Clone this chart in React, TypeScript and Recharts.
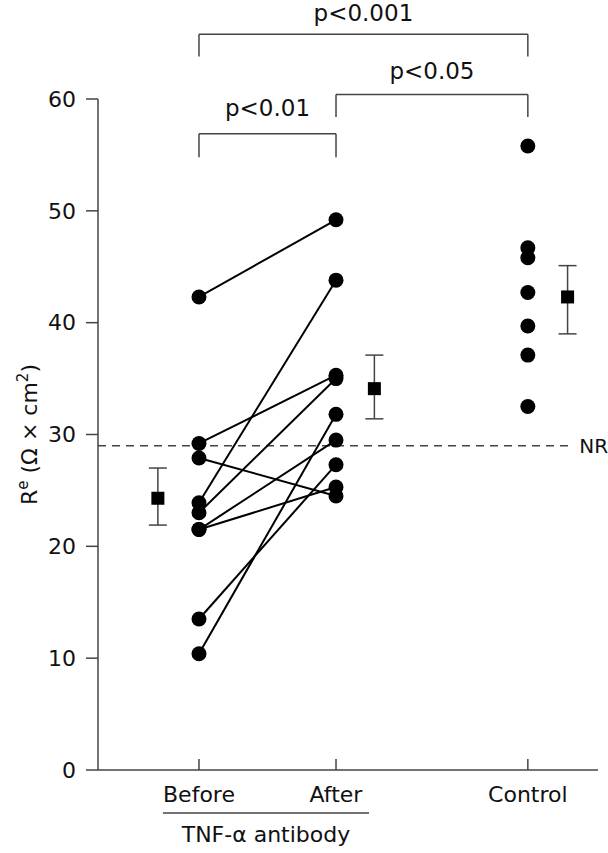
import React from "react";
import {
  ComposedChart,
  Scatter,
  XAxis,
  YAxis,
  ErrorBar,
  ReferenceLine,
  ReferenceDot
} from "recharts";

// groups on the x axis
const groupNames = ["Before", "After", "Control"];
const groupX = [1, 2, 3.4];

// paired values, same index = same patient
const beforeValues = [42.3, 29.2, 27.9, 23.9, 23.0, 21.5, 21.5, 13.5, 10.4];
const afterValues = [49.2, 35.3, 24.5, 43.8, 35.0, 29.5, 25.3, 27.3, 31.8];
const controlValues = [55.8, 46.7, 45.8, 42.7, 39.7, 37.1, 32.5];

// mean +/- sem, drawn beside each group
const meanX = [0.7, 2.28, 3.69];
const meanValues = [24.3, 34.1, 42.3];
const meanLow = [21.9, 31.4, 39.0];
const meanHigh = [27.0, 37.1, 45.1];

const yTicks = [0, 10, 20, 30, 40, 50, 60];
const normalRange = 29;

// significance brackets: group index pairs and labels
const bracketPairs = [[0, 1], [1, 2], [0, 2]];
const bracketLabels = ["p<0.01", "p<0.05", "p<0.001"];
const bracketTop = [56.9, 60.4, 65.8];
const bracketFoot = [54.8, 58.4, 63.8];
const bracketTextY = [59.2, 62.5, 67.7];

const xMin = 0.263;
const xMax = 3.912;
const ink = "#111";
const axisGrey = "#444";

const pairs = beforeValues.map((b, i) => [
  { x: groupX[0], y: b },
  { x: groupX[1], y: afterValues[i] }
]);
const controlData = controlValues.map((v) => ({ x: groupX[2], y: v }));
const meanData = meanValues.map((m, i) => ({
  x: meanX[i],
  y: m,
  err: [m - meanLow[i], meanHigh[i] - m]
}));

const Dot = (p: any) => <circle cx={p.cx} cy={p.cy} r={7.5} fill="#000" />;
const Square = (p: any) => (
  <rect x={p.cx - 6.5} y={p.cy - 6.5} width={13} height={13} fill="#000" />
);

const XTick = (props: any) => {
  const { x, y, payload } = props;
  const i = groupX.indexOf(payload.value);
  return (
    <g>
      <line x1={x} x2={x} y1={y} y2={y - 11} stroke={axisGrey} strokeWidth={1.5} />
      <text x={x} y={y + 32} textAnchor="middle" fontSize={22} fill={ink}>
        {groupNames[i]}
      </text>
    </g>
  );
};

const YLabel = (props: any) => {
  const vb = props.viewBox;
  const cx = vb.x + 37;
  const cy = vb.y + vb.height / 2;
  return (
    <text
      x={cx}
      y={cy}
      transform={`rotate(-90 ${cx} ${cy})`}
      textAnchor="middle"
      fontSize={22}
      fill={ink}
    >
      R
      <tspan dy={-9} fontSize={15}>e</tspan>
      <tspan dy={9}> (Ω × cm</tspan>
      <tspan dy={-9} fontSize={15}>2</tspan>
      <tspan dy={9}>)</tspan>
    </text>
  );
};

export default function App() {
  return (
    <div style={{ position: "absolute", left: 0, top: 0, fontFamily: "DejaVu Sans" }}>
      <ComposedChart
        width={608}
        height={853}
        margin={{ top: 99, right: 10, bottom: 23, left: 0 }}
      >
        <XAxis
          type="number"
          dataKey="x"
          domain={[xMin, xMax]}
          ticks={groupX}
          tick={<XTick />}
          tickLine={false}
          tickSize={0}
          tickMargin={0}
          height={60}
          axisLine={{ stroke: axisGrey, strokeWidth: 1.5 }}
        />
        <YAxis
          type="number"
          dataKey="y"
          domain={[0, 60]}
          ticks={yTicks}
          width={98}
          tickSize={12}
          tickMargin={10}
          tick={{ fontSize: 22, fill: ink }}
          tickLine={{ stroke: axisGrey, strokeWidth: 1.5 }}
          axisLine={{ stroke: axisGrey, strokeWidth: 1.5 }}
          label={{ content: YLabel }}
        />

        <ReferenceLine
          segment={[{ x: xMin, y: normalRange }, { x: 3.72, y: normalRange }]}
          stroke={axisGrey}
          strokeWidth={1.5}
          strokeDasharray="8 6"
          ifOverflow="visible"
        />
        <ReferenceDot
          x={3.88}
          y={normalRange}
          r={1}
          fill="none"
          stroke="none"
          ifOverflow="visible"
          label={{ value: "NR", position: "center", fontSize: 20, fill: ink }}
        />

        {bracketPairs.map(([a, b], i) => (
          <React.Fragment key={bracketLabels[i]}>
            <ReferenceLine
              segment={[{ x: groupX[a], y: bracketFoot[i] }, { x: groupX[a], y: bracketTop[i] }]}
              stroke={axisGrey}
              strokeWidth={1.5}
              ifOverflow="visible"
            />
            <ReferenceLine
              segment={[{ x: groupX[a], y: bracketTop[i] }, { x: groupX[b], y: bracketTop[i] }]}
              stroke={axisGrey}
              strokeWidth={1.5}
              ifOverflow="visible"
            />
            <ReferenceLine
              segment={[{ x: groupX[b], y: bracketTop[i] }, { x: groupX[b], y: bracketFoot[i] }]}
              stroke={axisGrey}
              strokeWidth={1.5}
              ifOverflow="visible"
            />
            <ReferenceDot
              x={(groupX[a] + groupX[b]) / 2}
              y={bracketTextY[i]}
              r={1}
              fill="none"
              stroke="none"
              ifOverflow="visible"
              label={{ value: bracketLabels[i], position: "center", fontSize: 23, fill: ink }}
            />
          </React.Fragment>
        ))}

        {/* group label under Before/After */}
        <ReferenceLine
          segment={[{ x: 0.737, y: -3.85 }, { x: 2.241, y: -3.85 }]}
          stroke={axisGrey}
          strokeWidth={1.5}
          ifOverflow="visible"
        />
        <ReferenceDot
          x={1.489}
          y={-5.72}
          r={1}
          fill="none"
          stroke="none"
          ifOverflow="visible"
          label={{ value: "TNF-α antibody", position: "center", fontSize: 22, fill: ink }}
        />

        {pairs.map((d, i) => (
          <Scatter
            key={i}
            data={d}
            line={{ stroke: "#000", strokeWidth: 2 }}
            shape={Dot}
            isAnimationActive={false}
          />
        ))}
        <Scatter data={controlData} shape={Dot} isAnimationActive={false} />
        <Scatter data={meanData} shape={Square} isAnimationActive={false}>
          <ErrorBar dataKey="err" direction="y" width={9} stroke={axisGrey} strokeWidth={1.5} />
        </Scatter>
      </ComposedChart>
    </div>
  );
}
